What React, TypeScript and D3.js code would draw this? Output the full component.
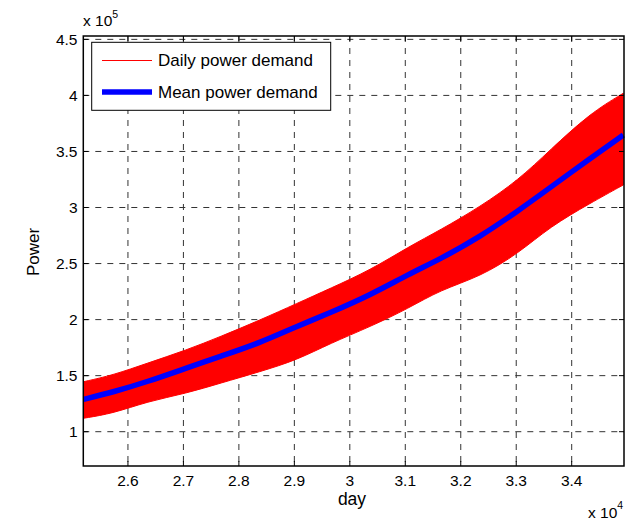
import React from "react";
import * as d3 from "d3";

// values (power in units of 1e5)
const days = [25200, 25740, 26340, 27060, 27660, 28380, 29050, 29650, 30370, 31060, 31630, 32350, 33040, 33610, 34330, 34930];
const dailyHigh = [1.446, 1.506, 1.61, 1.729, 1.847, 1.996, 2.145, 2.279, 2.442, 2.65, 2.799, 3.007, 3.245, 3.513, 3.84, 4.019];
const dailyLow = [1.12, 1.164, 1.268, 1.343, 1.432, 1.535, 1.64, 1.789, 1.937, 2.101, 2.264, 2.383, 2.591, 2.829, 3.037, 3.201];
const meanPower = [1.289, 1.355, 1.444, 1.569, 1.671, 1.792, 1.941, 2.062, 2.22, 2.405, 2.54, 2.739, 2.972, 3.177, 3.437, 3.647];

const xTicks = [26000, 27000, 28000, 29000, 30000, 31000, 32000, 33000, 34000];
const xTickLabels = ["2.6", "2.7", "2.8", "2.9", "3", "3.1", "3.2", "3.3", "3.4"];
const yTicks = [1, 1.5, 2, 2.5, 3, 3.5, 4, 4.5];
const yTickLabels = ["1", "1.5", "2", "2.5", "3", "3.5", "4", "4.5"];
const legendLabels = ["Daily power demand", "Mean power demand"];

const width = 625;
const height = 519;
const left = 83.3, right = 624, top = 36, bottom = 466;
const font = "'Liberation Sans', Arial, sans-serif";

export default function App() {
  const x = d3.scaleLinear().domain([25195, 34943]).range([left, right]);
  const y = d3.scaleLinear().domain([0.694, 4.53]).range([bottom, top]);

  const idx = d3.range(days.length);
  // the daily series is so dense that it shows as a band between its highs and lows
  const band = d3
    .area<number>()
    .x((i) => x(days[i]))
    .y0((i) => y(dailyLow[i]))
    .y1((i) => y(dailyHigh[i]))
    .curve(d3.curveBasis);
  const meanLine = d3
    .line<number>()
    .x((i) => x(days[i]))
    .y((i) => y(meanPower[i]))
    .curve(d3.curveBasis);

  const grid = "#333";
  const dash = "6,6";

  return (
    <svg
      width={width}
      height={height}
      style={{ position: "absolute", left: 0, top: 0, background: "#fff" }}
      fontFamily={font}
    >
      <rect x={0} y={0} width={width} height={height} fill="#fff" />

      {/* grid */}
      {xTicks.map((t) => (
        <line key={"gx" + t} x1={x(t)} x2={x(t)} y1={top} y2={bottom} stroke={grid} strokeDasharray={dash} />
      ))}
      {yTicks.map((t) => (
        <line key={"gy" + t} x1={left} x2={right} y1={y(t)} y2={y(t)} stroke={grid} strokeDasharray={dash} />
      ))}

      {/* data */}
      <path d={band(idx) || ""} fill="#ff0000" stroke="#ff0000" strokeWidth={1} />
      <path d={meanLine(idx) || ""} fill="none" stroke="#0000ff" strokeWidth={5.5} />

      {/* ticks on all sides */}
      {xTicks.map((t) => (
        <g key={"tx" + t}>
          <line x1={x(t)} x2={x(t)} y1={bottom} y2={bottom - 5} stroke="#000" />
          <line x1={x(t)} x2={x(t)} y1={top} y2={top + 5} stroke="#000" />
        </g>
      ))}
      {yTicks.map((t) => (
        <g key={"ty" + t}>
          <line x1={left} x2={left + 5} y1={y(t)} y2={y(t)} stroke="#000" />
          <line x1={right} x2={right - 5} y1={y(t)} y2={y(t)} stroke="#000" />
        </g>
      ))}

      {/* box */}
      <rect x={left} y={top} width={right - left} height={bottom - top} fill="none" stroke="#000" strokeWidth={1.5} />

      {/* tick labels */}
      {xTicks.map((t, i) => (
        <text key={"lx" + t} x={x(t)} y={485.5} fontSize={15.5} textAnchor="middle" fill="#000">
          {xTickLabels[i]}
        </text>
      ))}
      {yTicks.map((t, i) => (
        <text key={"ly" + t} x={77.5} y={y(t)} dy="0.36em" fontSize={15.5} textAnchor="end" fill="#000">
          {yTickLabels[i]}
        </text>
      ))}

      {/* exponents */}
      <text x={83} y={25.5} fontSize={15.5} fill="#000">
        x 10<tspan fontSize={10.5} dy={-7.5}>5</tspan>
      </text>
      <text x={588} y={517.5} fontSize={15.5} fill="#000">
        x 10<tspan fontSize={10.5} dy={-9}>4</tspan>
      </text>

      {/* axis labels */}
      <text x={352} y={505} fontSize={17.5} textAnchor="middle" fill="#000">
        day
      </text>
      <text transform="translate(39,252) rotate(-90)" fontSize={17} textAnchor="middle" fill="#000">
        Power
      </text>

      {/* legend */}
      <rect x={91.7} y={42.3} width={239} height={68} fill="#fff" stroke="#000" strokeWidth={1} />
      <line x1={102} x2={152} y1={60.5} y2={60.5} stroke="#ff0000" strokeWidth={1} />
      <line x1={102} x2={152} y1={92} y2={92} stroke="#0000ff" strokeWidth={5.5} />
      <text x={158} y={60} dy="0.36em" fontSize={17} fill="#000">
        {legendLabels[0]}
      </text>
      <text x={158} y={92} dy="0.36em" fontSize={17} fill="#000">
        {legendLabels[1]}
      </text>
    </svg>
  );
}
